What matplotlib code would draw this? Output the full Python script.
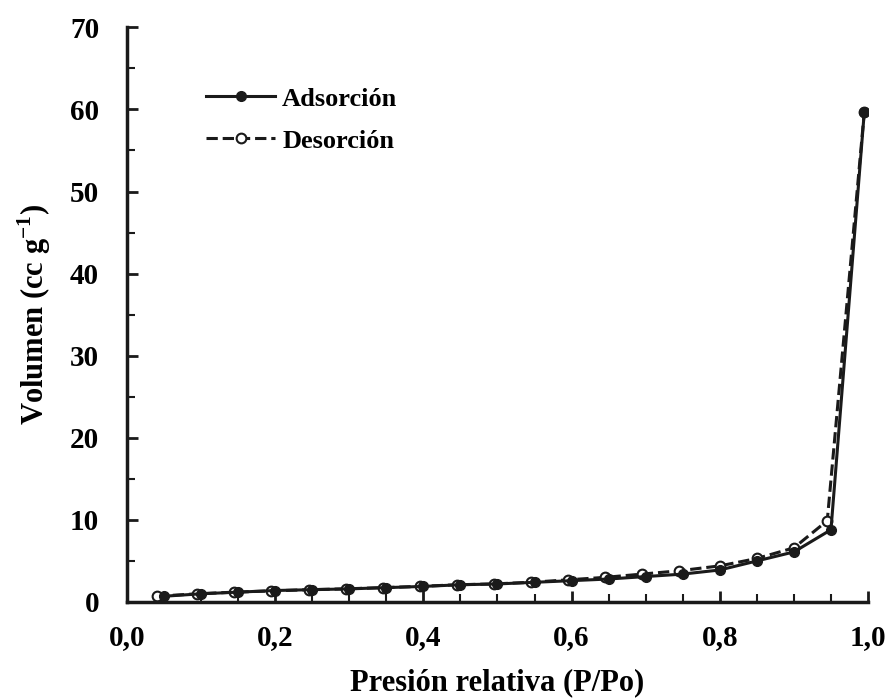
import matplotlib.pyplot as plt
from matplotlib.ticker import MultipleLocator, FuncFormatter

plt.rcParams['font.family'] = ['Liberation Serif', 'DejaVu Serif']
plt.rcParams['font.weight'] = 'bold'
plt.rcParams['mathtext.fontset'] = 'custom'
plt.rcParams['mathtext.bf'] = 'Liberation Serif:bold'

# adsorcion
p_ads = [0.05, 0.10, 0.15, 0.20, 0.25, 0.30, 0.35, 0.40, 0.45, 0.50,
         0.55, 0.60, 0.65, 0.70, 0.75, 0.80, 0.85, 0.90, 0.95, 0.995]
v_ads = [0.7, 1.0, 1.2, 1.4, 1.5, 1.6, 1.75, 1.9, 2.1, 2.2,
         2.4, 2.6, 2.8, 3.1, 3.4, 3.9, 5.0, 6.1, 8.8, 59.7]
# desorcion
p_des = [0.04, 0.095, 0.145, 0.195, 0.245, 0.295, 0.345, 0.395, 0.445, 0.495,
         0.545, 0.595, 0.645, 0.695, 0.745, 0.80, 0.85, 0.90, 0.945, 0.995]
v_des = [0.7, 1.0, 1.2, 1.35, 1.5, 1.6, 1.75, 1.9, 2.1, 2.2,
         2.4, 2.7, 3.0, 3.4, 3.8, 4.4, 5.3, 6.6, 9.9, 59.7]

fig = plt.figure(figsize=(8.91, 7), dpi=100)
ax = fig.add_axes([0.1425, 0.14, 0.8317, 0.821])

ax.plot(p_ads, v_ads, '-', color='#1a1a1a', lw=2.2, marker='o', ms=7,
        mfc='#1a1a1a', mec='#1a1a1a', label='Adsorción', zorder=3)
ax.plot(p_des, v_des, '--', color='#1a1a1a', lw=2.2, marker='o', ms=7,
        mfc='white', mec='#1a1a1a', mew=1.5, label='Desorción', zorder=2)

ax.set_xlim(0, 1.0)
ax.set_ylim(0, 70)
ax.spines['top'].set_visible(False)
ax.spines['right'].set_visible(False)
for s in ['left', 'bottom']:
    ax.spines[s].set_linewidth(2.5)
    ax.spines[s].set_color('#1a1a1a')

ax.xaxis.set_major_locator(MultipleLocator(0.2))
ax.xaxis.set_minor_locator(MultipleLocator(0.05))
ax.yaxis.set_major_locator(MultipleLocator(10))
ax.yaxis.set_minor_locator(MultipleLocator(5))
ax.xaxis.set_major_formatter(FuncFormatter(lambda v, p: ('%.1f' % v).replace('.', ',')))
ax.tick_params(which='major', direction='in', length=8, width=2, labelsize=21, color='#1a1a1a')
ax.tick_params(which='minor', direction='in', length=6, width=1.5, color='#1a1a1a')
ax.tick_params(axis='x', pad=16)
ax.tick_params(axis='y', pad=20)

ax.set_xlabel('Presión relativa (P/Po)', fontsize=22, fontweight='bold', labelpad=12)
ax.set_ylabel('Volumen (cc g$^{\\mathbf{-1}}$)', fontsize=22, fontweight='bold', labelpad=12)

ax.legend(loc='upper left', bbox_to_anchor=(0.074, 0.937), frameon=False,
          prop={'size': 19, 'weight': 'bold'}, handlelength=2.65, handletextpad=0.25,
          labelspacing=0.7)

fig.savefig('out.png', dpi=100)
